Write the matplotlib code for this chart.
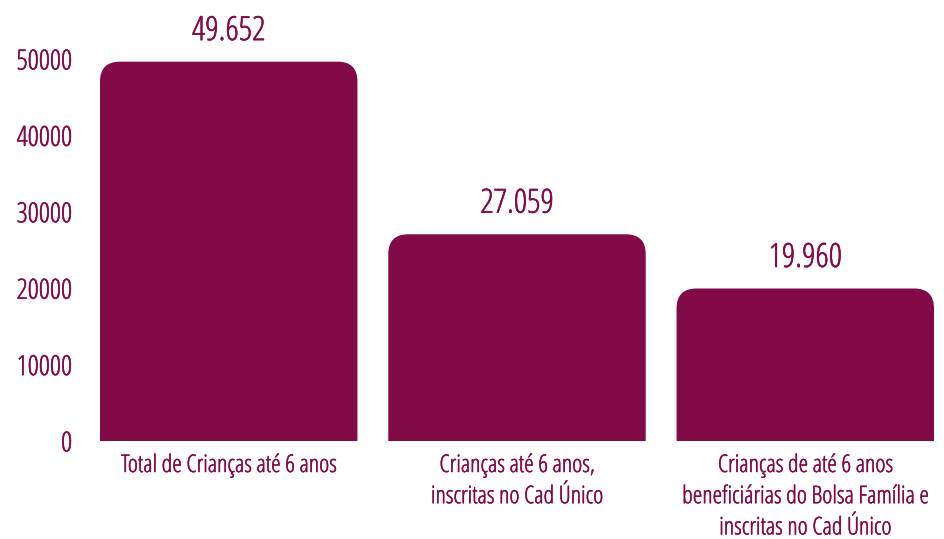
import matplotlib
matplotlib.use("Agg")
import matplotlib.pyplot as plt
import matplotlib.patheffects as pe
from matplotlib.patches import FancyBboxPatch

categories = ["Total de Crianças até 6 anos",
              "Crianças até 6 anos,\ninscritas no Cad Único",
              "Crianças de até 6 anos\nbeneficiárias do Bolsa Família e\ninscritas no Cad Único"]
values = [49652, 27059, 19960]
value_labels = ["49.652", "27.059", "19.960"]
yticks = [0, 10000, 20000, 30000, 40000, 50000]

WINE = "#820A46"
plt.rcParams["font.family"] = ["Open Sans", "DejaVu Sans"]
plt.rcParams["font.stretch"] = "condensed"
plt.rcParams["font.weight"] = "light"
plt.rcParams["text.color"] = WINE
# the condensed cut is light only, a thin stroke brings it to regular weight
thick = [pe.withStroke(linewidth=0.35, foreground=WINE)]

fig = plt.figure(figsize=(9.45, 5.39), dpi=100)
ax = fig.add_axes([100 / 945, 1 - 441 / 539, 834 / 945, 382 / 539])

x = list(range(len(values)))
bars = ax.bar(x, values, width=0.893, color=WINE)
ax.set_xlim(-0.4465, 2.4465)
ax.set_ylim(0, 50000)

# swap the plain bars for ones with rounded top corners
rad = 0.069
asp = (10000 / 76.4) / (1 / 288.0)
for b in bars:
    b.set_visible(False)
    x0, y0 = b.get_x(), b.get_y()
    w, h = b.get_width(), b.get_height()
    p = FancyBboxPatch((x0, y0 - 5000), w, h + 5000,
                       boxstyle=f"round,pad=0,rounding_size={rad}",
                       mutation_aspect=asp, fc=WINE, ec="none")
    ax.add_patch(p)

for xi, v, lab in zip(x, values, value_labels):
    ax.annotate(lab, (xi, v), xytext=(0, 15.5), textcoords="offset points",
                ha="center", va="baseline", fontsize=24, color=WINE,
                path_effects=thick)

ax.set_yticks(yticks)
ax.set_yticklabels([str(t) for t in yticks], fontsize=20, color=WINE)
ax.set_xticks(x)
ax.set_xticklabels(categories, fontsize=17.5, color=WINE, linespacing=1.4)
ax.tick_params(axis="both", length=0)
ax.tick_params(axis="y", pad=20)
ax.tick_params(axis="x", pad=9)
for lbl in ax.get_xticklabels() + ax.get_yticklabels():
    lbl.set_path_effects(thick)
for s in ax.spines.values():
    s.set_visible(False)

fig.savefig("out.png", dpi=100)
